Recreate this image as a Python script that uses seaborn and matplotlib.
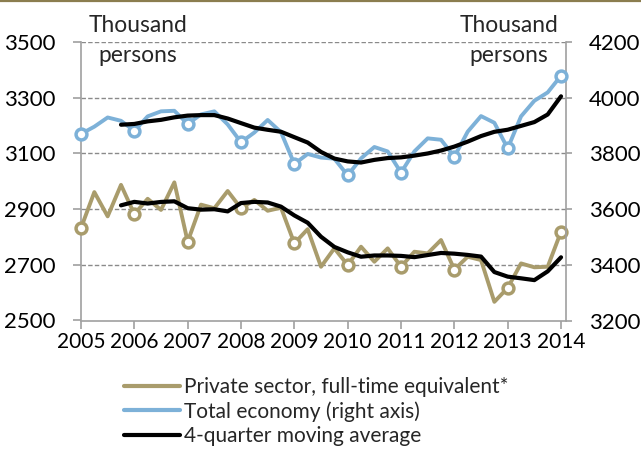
import numpy as np
import pandas as pd
import matplotlib
matplotlib.use("Agg")
import matplotlib.pyplot as plt
import seaborn as sns
from matplotlib.lines import Line2D

# ---- data (quarterly, 2005Q1 .. 2014Q1) ----
years = ["2005", "2006", "2007", "2008", "2009", "2010", "2011", "2012", "2013", "2014"]
private = [2832, 2961, 2874, 2987, 2882, 2937, 2897, 2996,
           2783, 2916, 2903, 2965, 2903, 2933, 2894, 2905,
           2777, 2828, 2693, 2759, 2699, 2765, 2711, 2759,
           2693, 2747, 2741, 2789, 2683, 2729, 2717, 2567,
           2617, 2705, 2691, 2693, 2819]
total = [3870, 3896, 3929, 3917, 3881, 3933, 3951, 3953,
         3906, 3940, 3951, 3904, 3840, 3875, 3920, 3876,
         3762, 3798, 3785, 3781, 3721, 3782, 3823, 3807,
         3731, 3807, 3854, 3849, 3788, 3878, 3934, 3910,
         3818, 3933, 3989, 4019, 4079]
left_ticks = [2500, 2700, 2900, 3100, 3300, 3500]
right_ticks = [3200, 3400, 3600, 3800, 4000, 4200]
legend_labels = ["Private sector, full-time equivalent*",
                 "Total economy (right axis)",
                 "4-quarter moving average"]

df = pd.DataFrame({"q": np.arange(len(private)), "private": private, "total": total})
df["private_ma"] = df["private"].rolling(4).mean()
df["total_ma"] = df["total"].rolling(4).mean()

TAN = "#A99C6C"
BLUE = "#7DB1D8"
GRID = "#8A8A8A"
SPINE = "#A0A0A0"

sns.set_theme(style="white")
plt.rcParams["font.family"] = ["Lato", "DejaVu Sans"]
FS = 16

fig = plt.figure(figsize=(6.41, 4.58), dpi=100)
ax = fig.add_axes([81 / 641, 1 - 320.5 / 458, (565.7 - 81) / 641, (320.5 - 42) / 458])
ax2 = ax.twinx()

LW = 2.8
mk = dict(marker="o", markevery=4, markersize=7.8, markerfacecolor="white",
          markeredgewidth=2.5, clip_on=False)

sns.lineplot(data=df, x="q", y="private", ax=ax, color=TAN, lw=LW,
             markeredgecolor=TAN, zorder=3, legend=False, **mk)
sns.lineplot(data=df, x="q", y="private_ma", ax=ax, color="black", lw=LW + 0.2,
             zorder=4, legend=False)
sns.lineplot(data=df, x="q", y="total", ax=ax2, color=BLUE, lw=LW,
             markeredgecolor=BLUE, zorder=3, legend=False, **mk)
sns.lineplot(data=df, x="q", y="total_ma", ax=ax2, color="black", lw=LW + 0.2,
             zorder=4, legend=False)

ax.set_xlim(0, 36.35)
ax.set_ylim(left_ticks[0], left_ticks[-1])
ax2.set_ylim(right_ticks[0], right_ticks[-1])
ax.set_yticks(left_ticks)
ax2.set_yticks(right_ticks)
ax.set_xticks(np.arange(0, 37, 4))
ax.set_xticklabels(years)
ax.set_xlabel("")
ax.set_ylabel("")
ax2.set_ylabel("")

for y in left_ticks[1:]:
    ax.axhline(y, color=GRID, lw=1.0, ls=(0, (3.2, 1.6)), zorder=1)

for a in (ax, ax2):
    for s in a.spines.values():
        s.set_visible(False)
    a.grid(False)
ax.spines["left"].set_visible(True)
ax.spines["bottom"].set_visible(True)
ax2.spines["right"].set_visible(True)
for s in (ax.spines["left"], ax.spines["bottom"], ax2.spines["right"]):
    s.set_color(SPINE)
    s.set_linewidth(1.2)

ax.tick_params(axis="both", direction="out", length=5.5, width=1.2, color=SPINE,
               labelcolor="black", left=True, bottom=True)
ax.tick_params(axis="x", labelsize=15, pad=3)
ax.tick_params(axis="y", labelsize=FS, pad=13)
ax2.tick_params(axis="y", direction="out", length=4, width=1.2, color=SPINE,
                labelsize=FS, labelcolor="black", pad=12.5, right=True)

TF = 16.4
fig.text(138 / 641, 1 - 26 / 458, "Thousand", ha="center", va="center", fontsize=TF)
fig.text(138 / 641, 1 - 55 / 458, "persons", ha="center", va="center", fontsize=TF)
fig.text(509 / 641, 1 - 26 / 458, "Thousand", ha="center", va="center", fontsize=TF)
fig.text(509 / 641, 1 - 55 / 458, "persons", ha="center", va="center", fontsize=TF)

handles = [Line2D([], [], color=TAN, lw=3),
           Line2D([], [], color=BLUE, lw=3),
           Line2D([], [], color="black", lw=3)]
fig.legend(handles, legend_labels, loc="upper left",
           bbox_to_anchor=(124 / 641, 1 - 377 / 458), frameon=False,
           fontsize=15, borderpad=0, borderaxespad=0, handlelength=2.7,
           handletextpad=0.2, labelspacing=0.2)

fig.add_artist(Line2D([0, 1], [0.998, 0.998], color="#8B7D4F", lw=1.6,
                      transform=fig.transFigure))

fig.savefig("out.png", dpi=100)
